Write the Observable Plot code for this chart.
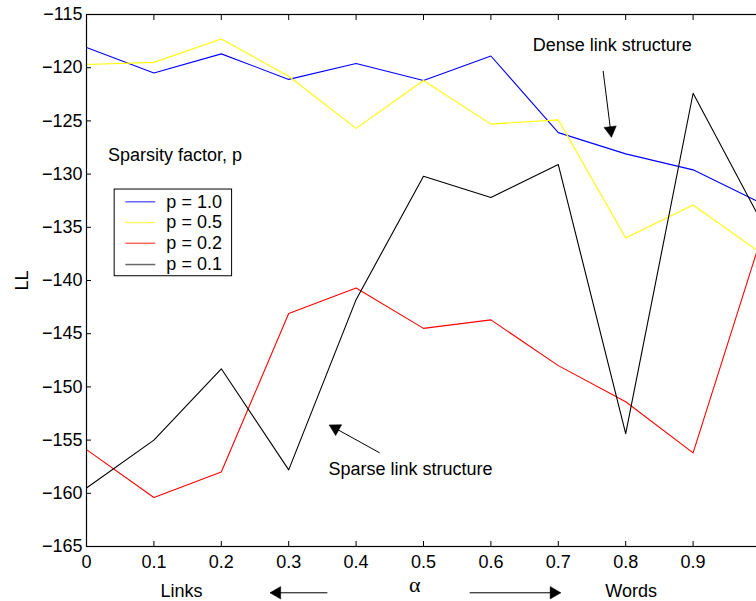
<!DOCTYPE html>
<html><head><meta charset="utf-8">
<script src="https://cdn.jsdelivr.net/npm/d3@7"></script>
<script src="https://cdn.jsdelivr.net/npm/@observablehq/plot@0.6"></script>
<style>
html,body{margin:0;padding:0;background:#fff;overflow:hidden}
#chart{width:756px;height:601px;overflow:hidden}
#chart svg{max-width:none !important;width:800px !important;height:601px !important;}
</style></head><body><div id="chart"></div>
<script>
// ---- data ----
const alpha = [0, 0.1, 0.2, 0.3, 0.4, 0.5, 0.6, 0.7, 0.8, 0.9, 1.0];
const seriesNames = ["p = 1.0", "p = 0.5", "p = 0.2", "p = 0.1"];
const seriesColors = ["#0000ff", "#ffff00", "#ff0000", "#000000"];
const llP10 = [-118.1, -120.5, -118.7, -121.1, -119.6, -121.2, -118.9, -126.1, -128.1, -129.6, -132.7];
const llP05 = [-119.7, -119.5, -117.3, -120.8, -125.7, -121.2, -125.3, -124.9, -136.0, -132.9, -137.4];
const llP02 = [-155.9, -160.4, -158.0, -143.1, -140.7, -144.5, -143.7, -148.0, -151.4, -156.2, -136.2];
const llP01 = [-159.5, -155.0, -148.3, -157.8, -141.8, -130.2, -132.2, -129.1, -154.4, -122.4, -134.3];
const xTicks = [0, 0.1, 0.2, 0.3, 0.4, 0.5, 0.6, 0.7, 0.8, 0.9, 1.0];
const xTickLabels = ["0", "0.1", "0.2", "0.3", "0.4", "0.5", "0.6", "0.7", "0.8", "0.9", ""];
const yTicks = [-165, -160, -155, -150, -145, -140, -135, -130, -125, -120, -115];
const xLabel = "α";
const yLabel = "LL";
const legendTitle = "Sparsity factor, p";
const annotationTexts = ["Dense link structure", "Sparse link structure", "Links", "Words"];

// ---- layout ----
const W = 800, H = 601, mL = 86, mR = 40, mT = 14, mB = 55;
const FS = 18;
const font = "'Liberation Sans', Arial, Helvetica, sans-serif";
const xScale = Plot.scale({x: {domain: [0, 1], range: [mL, W - mR]}});
const yScale = Plot.scale({y: {domain: [-165, -115], range: [H - mB, mT]}});

const allSeries = [llP10, llP05, llP02, llP01];
const rows = [];
allSeries.forEach((vals, i) => vals.forEach((v, j) => rows.push({alpha: alpha[j], ll: v, series: seriesNames[i]})));

// legend placement (data coordinates)
const legendRowsY = [-132.6, -134.55, -136.5, -138.5];
const legendRows = seriesNames.map((s, i) => ({series: s, y: legendRowsY[i]}));

// annotation texts (data coordinates)
const texts = [
  {x: 0.662, y: -117.9, text: annotationTexts[0], anchor: "start"},
  {x: 0.359, y: -157.75, text: annotationTexts[1], anchor: "start"},
  {x: 0.141, y: -169.2, text: annotationTexts[2], anchor: "middle"},
  {x: 0.808, y: -169.2, text: annotationTexts[3], anchor: "middle"},
  {x: 0.032, y: -128.25, text: legendTitle, anchor: "start"}
];

// arrows: tail -> head (data coordinates)
const arrows = [
  {x1: 0.7665, y1: -120.3, x2: 0.7788, y2: -126.5},
  {x1: 0.435, y1: -156.2, x2: 0.3608, y2: -153.6},
  {x1: 0.3574, y1: -169.35, x2: 0.2729, y2: -169.35},
  {x1: 0.5685, y1: -169.35, x2: 0.7031, y2: -169.35}
];
const headR = 4.6;
const heads = arrows.map(a => {
  const px1 = xScale.apply(a.x1), py1 = yScale.apply(a.y1);
  const px2 = xScale.apply(a.x2), py2 = yScale.apply(a.y2);
  const dx = px2 - px1, dy = py2 - py1, len = Math.hypot(dx, dy);
  const back = headR * 1.45;
  return {
    x: xScale.invert(px2 - dx / len * back),
    y: yScale.invert(py2 - dy / len * back),
    rotate: Math.atan2(dx, -dy) * 180 / Math.PI
  };
});

const chart = Plot.plot({
  width: W, height: H,
  marginLeft: mL, marginRight: mR, marginTop: mT, marginBottom: mB,
  x: {domain: [0, 1], range: [mL, W - mR]},
  y: {domain: [-165, -115], range: [H - mB, mT]},
  color: {domain: seriesNames, range: seriesColors},
  style: {fontFamily: font, fontSize: FS + "px", background: "white", color: "black", overflow: "hidden", maxWidth: "none"},
  marks: [
    Plot.line(rows, {x: "alpha", y: "ll", z: "series", stroke: "series", strokeWidth: 1.1}),
    Plot.frame({stroke: "black", strokeWidth: 1.2}),
    Plot.axisY({anchor: "left", ticks: yTicks, tickSize: -5, tickPadding: 9, label: null, fontSize: FS}),
    Plot.axisY({anchor: "right", ticks: yTicks, tickSize: -5, tickFormat: () => "", label: null}),
    Plot.axisX({anchor: "bottom", ticks: xTicks, tickSize: -5, tickPadding: 14, label: null, fontSize: FS,
      tickFormat: d => xTickLabels[xTicks.findIndex(t => Math.abs(t - d) < 1e-9)]}),
    Plot.axisX({anchor: "top", ticks: xTicks, tickSize: -5, tickFormat: () => "", label: null}),
    // legend box
    Plot.rect([{x1: 0.0418, x2: 0.216, y1: -131.45, y2: -139.6}], {x1: "x1", x2: "x2", y1: "y1", y2: "y2", fill: "white", stroke: "black", strokeWidth: 1}),
    Plot.link(legendRows, {x1: 0.0577, x2: 0.102, y1: "y", y2: "y", stroke: "series", strokeOpacity: 0.6, strokeWidth: 1.5}),
    Plot.text(legendRows, {x: 0.1185, y: "y", text: "series", textAnchor: "start", fontSize: FS}),
    // annotations
    Plot.text(texts.filter(t => t.anchor === "start"), {x: "x", y: "y", text: "text", textAnchor: "start", fontSize: FS}),
    Plot.text(texts.filter(t => t.anchor === "middle"), {x: "x", y: "y", text: "text", textAnchor: "middle", fontSize: FS}),
    Plot.link(arrows, {x1: "x1", y1: "y1", x2: "x2", y2: "y2", stroke: "black", strokeWidth: 1}),
    Plot.dot(heads, {x: "x", y: "y", rotate: "rotate", symbol: "triangle", r: headR, fill: "black", stroke: "black", strokeWidth: 0.5}),
    // axis titles
    Plot.text([xLabel], {x: 0.487, y: -168.6, text: d => d, fontSize: 22, fontFamily: "'Liberation Serif', 'DejaVu Serif', serif"}),
    Plot.text([yLabel], {x: -0.095, y: -140, text: d => d, rotate: -90, fontSize: FS})
  ]
});
document.getElementById("chart").appendChild(chart);
</script>
</body></html>
